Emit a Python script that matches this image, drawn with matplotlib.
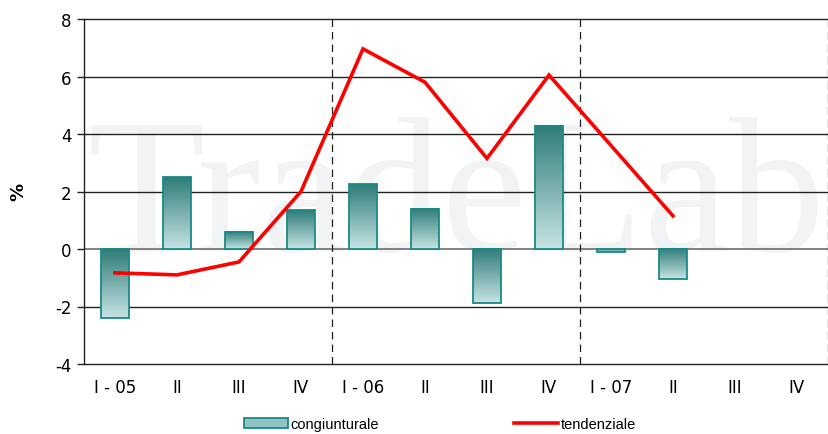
import numpy as np
import matplotlib
matplotlib.use("Agg")
import matplotlib.pyplot as plt
from matplotlib.colors import LinearSegmentedColormap
from matplotlib.patches import Patch
from matplotlib.lines import Line2D

categories = ["I - 05", "II", "III", "IV", "I - 06", "II", "III", "IV", "I - 07", "II", "III", "IV"]
congiunturale = [-2.4, 2.5, 0.6, 1.35, 2.25, 1.4, -1.88, 4.28, -0.1, -1.05]
tendenziale = [-0.83, -0.9, -0.45, 2.0, 6.96, 5.8, 3.15, 6.05, 3.6, 1.15]
yticks = [-4, -2, 0, 2, 4, 6, 8]

fig = plt.figure(figsize=(8.29, 4.35), dpi=100)
ax = fig.add_axes([84/829, (435-365)/435, (828-84)/829, (365-20)/435])

x = np.arange(len(categories))
ax.set_xlim(-0.5, len(categories) - 0.5)
ax.set_ylim(-4, 8)

# watermark
ax.text(5.5, -0.05, "TradeLab", fontsize=138, family="Liberation Serif",
        color="#f1f3f5", ha="center", va="baseline", zorder=0)

# grid lines
for yv in [-2, 2, 4, 6]:
    ax.axhline(yv, color="#222222", lw=1.0, zorder=1)
ax.axhline(0, color="#777777", lw=1.3, zorder=1)
for xv in [3.5, 7.5]:
    ax.axvline(xv, color="#222222", lw=0.9, ls=(0, (6, 4)), zorder=1)

bars = ax.bar(x[:len(congiunturale)], congiunturale, width=0.44,
              facecolor="none", edgecolor="#1a8a86", lw=1.3, zorder=3)
cmap = LinearSegmentedColormap.from_list("g", ["#2f7c79", "#c6e4e3"])
grad = np.linspace(0, 1, 256).reshape(-1, 1)
for b in bars:
    x0 = b.get_x(); w = b.get_width(); h = b.get_height(); y0 = b.get_y()
    top = max(y0, y0 + h); bot = min(y0, y0 + h)
    ax.imshow(grad, cmap=cmap, extent=(x0, x0 + w, bot, top), origin="upper",
              aspect="auto", zorder=2, interpolation="bicubic")
ax.set_xlim(-0.5, len(categories) - 0.5)
ax.set_ylim(-4, 8)

ax.plot(x[:len(tendenziale)], tendenziale, color="#ff0000", lw=2.6, zorder=4,
        solid_joinstyle="miter")

ax.set_yticks(yticks)
ax.set_yticklabels([str(v) for v in yticks], fontsize=12)
ax.set_xticks(x)
ax.set_xticklabels(categories, fontsize=12)
ax.tick_params(axis="x", length=0, pad=10)
ax.tick_params(axis="y", length=5, width=1, color="#222222", pad=4)

for s in ["left", "bottom", "top"]:
    ax.spines[s].set_color("#222222")
    ax.spines[s].set_linewidth(1.0)
ax.spines["right"].set_linestyle((0, (6, 4)))
ax.spines["right"].set_color("#222222")
ax.spines["right"].set_linewidth(0.9)

fig.text(18/829, 1 - 192/435, "%", rotation=90, fontsize=13, fontweight="bold",
         ha="center", va="center")

handles = [Patch(facecolor="#8fc4c2", edgecolor="#1a8a86", lw=1.3),
           Line2D([0], [0], color="#ff0000", lw=2.6)]
fig.legend(handles, ["congiunturale", "tendenziale"], loc="center",
           bbox_to_anchor=(440/829, 1 - 425/435), ncol=2, frameon=False,
           columnspacing=9.3, handlelength=3.0, handleheight=0.7,
           handletextpad=0.15, prop={"family": "Liberation Sans", "size": 10.5})

fig.savefig("out.png", dpi=100)
